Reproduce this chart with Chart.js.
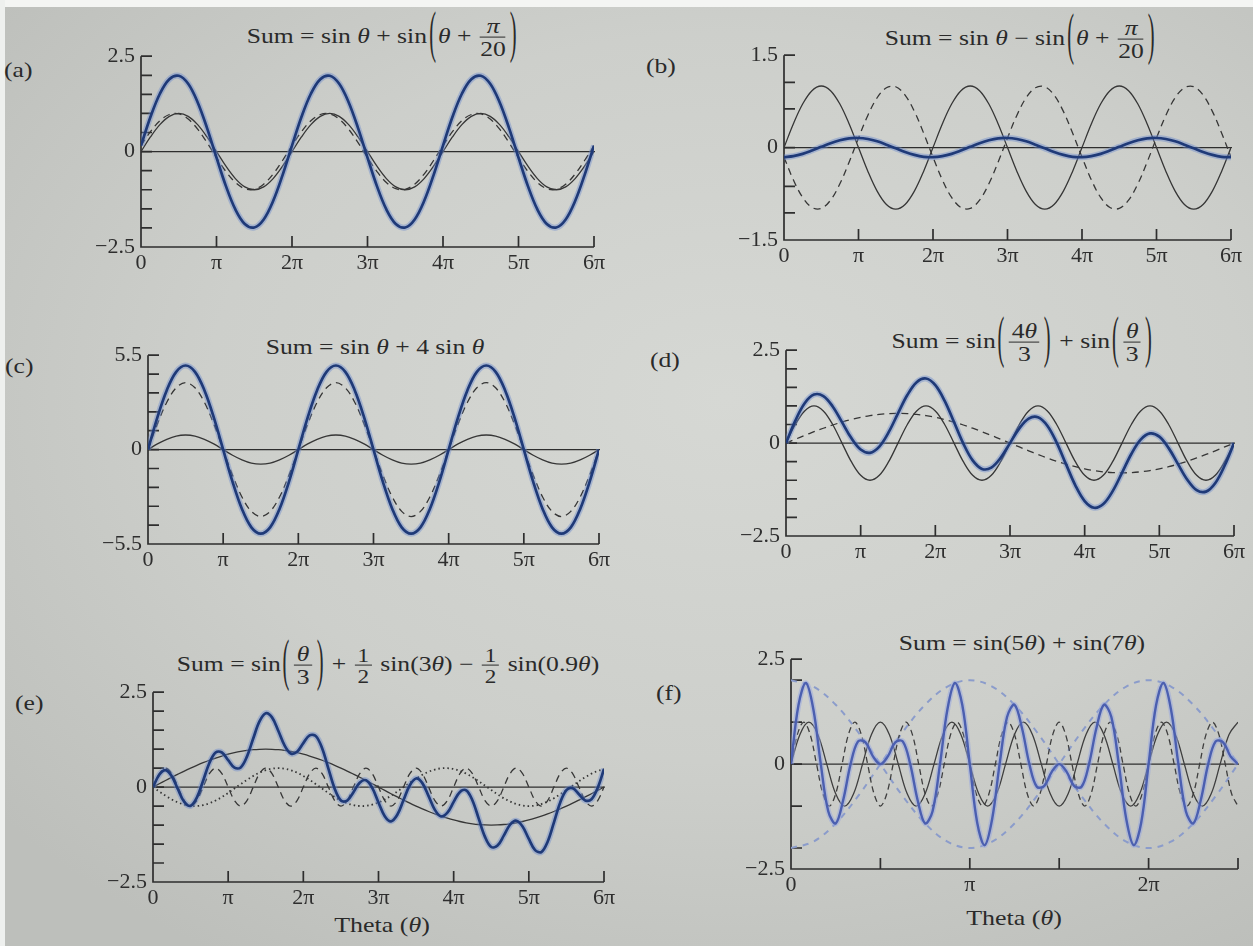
<!DOCTYPE html>
<html>
<head>
<meta charset="utf-8">
<script src="https://cdn.jsdelivr.net/npm/chart.js@4.4.1/dist/chart.umd.min.js"></script>
<style>
html,body{margin:0;padding:0;}
body{width:1253px;height:946px;position:relative;overflow:hidden;
  background:radial-gradient(ellipse 75% 70% at 58% 42%, #d6d8d4 0%, #cdcfcb 55%, #bdbfbb 100%);
  font-family:'Liberation Serif','DejaVu Serif',serif;color:#2a2a2a;}
.strip-top{position:absolute;left:0;top:0;width:1253px;height:7px;background:#f4f5f3;}
.strip-left{position:absolute;left:0;top:0;width:5px;height:946px;background:#eef0ee;}
canvas{position:absolute;}
.ttl{position:absolute;transform:translate(-50%,-50%) scaleX(1.22);white-space:nowrap;font-size:21px;}
.fr{display:inline-block;vertical-align:middle;text-align:center;font-size:21px;margin:0 2px;}
.fr .n{display:block;line-height:1.02;border-bottom:1.3px solid #2a2a2a;padding:0 2px;}
.fr .d{display:block;line-height:1.02;padding-top:1px;}
.fr.sm{font-size:19px;}
.bp{display:inline-block;vertical-align:middle;line-height:1;font-size:21px;transform:translateY(-5px) scale(0.8,2.75);margin:0 1px;}
.lab{position:absolute;font-size:21px;transform:translateY(-50%) scaleX(1.22);transform-origin:0 50%;white-space:nowrap;}
.axt{position:absolute;font-size:22px;transform:translate(-50%,-50%) scaleX(1.18);white-space:nowrap;}
</style>
</head>
<body>
<div class="strip-top"></div>
<div class="strip-left"></div>

<div class="lab" style="left:4px;top:70px;">(a)</div>
<div class="lab" style="left:646px;top:66px;">(b)</div>
<div class="lab" style="left:5px;top:366px;">(c)</div>
<div class="lab" style="left:650px;top:360px;">(d)</div>
<div class="lab" style="left:15px;top:703px;">(e)</div>
<div class="lab" style="left:656px;top:693px;">(f)</div>

<div class="ttl" style="left:383px;top:38px;">Sum = sin <i>θ</i> + sin<span class="bp">(</span><i>θ</i> + <span class="fr"><span class="n"><i>π</i></span><span class="d">20</span></span><span class="bp">)</span></div>
<div class="ttl" style="left:1021px;top:40px;">Sum = sin <i>θ</i> − sin<span class="bp">(</span><i>θ</i> + <span class="fr"><span class="n"><i>π</i></span><span class="d">20</span></span><span class="bp">)</span></div>
<div class="ttl" style="left:375px;top:347px;">Sum = sin <i>θ</i> + 4 sin <i>θ</i></div>
<div class="ttl" style="left:1023px;top:343px;">Sum = sin<span class="bp">(</span><span class="fr"><span class="n">4<i>θ</i></span><span class="d">3</span></span><span class="bp">)</span> + sin<span class="bp">(</span><span class="fr"><span class="n"><i>θ</i></span><span class="d">3</span></span><span class="bp">)</span></div>
<div class="ttl" style="left:388px;top:666px;">Sum = sin<span class="bp">(</span><span class="fr"><span class="n"><i>θ</i></span><span class="d">3</span></span><span class="bp">)</span> + <span class="fr sm"><span class="n">1</span><span class="d">2</span></span> sin(3<i>θ</i>) − <span class="fr sm"><span class="n">1</span><span class="d">2</span></span> sin(0.9<i>θ</i>)</div>
<div class="ttl" style="left:1022px;top:643px;">Sum = sin(5<i>θ</i>) + sin(7<i>θ</i>)</div>

<div class="axt" style="left:382px;top:925px;">Theta (<i>θ</i>)</div>
<div class="axt" style="left:1014px;top:918px;">Theta (<i>θ</i>)</div>

<script>
// ---------- sample positions (theta, in multiples of pi) ----------
const TH8 = [0,0.125,0.25,0.375,0.5,0.625,0.75,0.875,1,1.125,1.25,1.375,1.5,1.625,1.75,1.875,2,2.125,2.25,2.375,2.5,2.625,2.75,2.875,3,3.125,3.25,3.375,3.5,3.625,3.75,3.875,4,4.125,4.25,4.375,4.5,4.625,4.75,4.875,5,5.125,5.25,5.375,5.5,5.625,5.75,5.875,6];
const TH12 = [0,0.0833,0.1667,0.25,0.3333,0.4167,0.5,0.5833,0.6667,0.75,0.8333,0.9167,
  1,1.0833,1.1667,1.25,1.3333,1.4167,1.5,1.5833,1.6667,1.75,1.8333,1.9167,
  2,2.0833,2.1667,2.25,2.3333,2.4167,2.5,2.5833,2.6667,2.75,2.8333,2.9167,
  3,3.0833,3.1667,3.25,3.3333,3.4167,3.5,3.5833,3.6667,3.75,3.8333,3.9167,
  4,4.0833,4.1667,4.25,4.3333,4.4167,4.5,4.5833,4.6667,4.75,4.8333,4.9167,
  5,5.0833,5.1667,5.25,5.3333,5.4167,5.5,5.5833,5.6667,5.75,5.8333,5.9167,6];
const TH24F = [0,0.0417,0.0833,0.125,0.1667,0.2083,0.25,0.2917,0.3333,0.375,0.4167,0.4583,
  0.5,0.5417,0.5833,0.625,0.6667,0.7083,0.75,0.7917,0.8333,0.875,0.9167,0.9583,
  1,1.0417,1.0833,1.125,1.1667,1.2083,1.25,1.2917,1.3333,1.375,1.4167,1.4583,
  1.5,1.5417,1.5833,1.625,1.6667,1.7083,1.75,1.7917,1.8333,1.875,1.9167,1.9583,
  2,2.0417,2.0833,2.125,2.1667,2.2083,2.25,2.2917,2.3333,2.375,2.4167,2.4583,2.5];
const TH20F = [0,0.05,0.1,0.15,0.2,0.25,0.3,0.35,0.4,0.45,0.5,0.55,0.6,0.65,0.7,0.75,0.8,0.85,0.9,0.95,
  1,1.05,1.1,1.15,1.2,1.25,1.3,1.35,1.4,1.45,1.5,1.55,1.6,1.65,1.7,1.75,1.8,1.85,1.9,1.95,
  2,2.05,2.1,2.15,2.2,2.25,2.3,2.35,2.4,2.45,2.5];
const TH28F = [0,0.0357,0.0714,0.1071,0.1429,0.1786,0.2143,0.25,0.2857,0.3214,0.3571,0.3929,0.4286,0.4643,
  0.5,0.5357,0.5714,0.6071,0.6429,0.6786,0.7143,0.75,0.7857,0.8214,0.8571,0.8929,0.9286,0.9643,
  1,1.0357,1.0714,1.1071,1.1429,1.1786,1.2143,1.25,1.2857,1.3214,1.3571,1.3929,1.4286,1.4643,
  1.5,1.5357,1.5714,1.6071,1.6429,1.6786,1.7143,1.75,1.7857,1.8214,1.8571,1.8929,1.9286,1.9643,
  2,2.0357,2.0714,2.1071,2.1429,2.1786,2.2143,2.25,2.2857,2.3214,2.3571,2.3929,2.4286,2.4643,2.5];
const TH8F = [0,0.125,0.25,0.375,0.5,0.625,0.75,0.875,1,1.125,1.25,1.375,1.5,1.625,1.75,1.875,2,2.125,2.25,2.375,2.5];

// ---------- tick values and labels ----------
const X6_TICKS = [0,1,2,3,4,5,6];
const X6_LABELS = ['0','π','2π','3π','4π','5π','6π'];
const XF_TICKS = [0,0.5,1,1.5,2,2.5];
const XF_LABELS = ['0','','π','','2π',''];
const Y25_TICKS = [-2.5,-2,-1.5,-1,-0.5,0,0.5,1,1.5,2,2.5];
const Y25_LABELS = ['\u22122.5','','','','','0','','','','','2.5'];
const YB_TICKS = [-1.5,-1.06,-0.63,0,0.63,1.06,1.5];
const YB_LABELS = ['\u22121.5','','','0','','','1.5'];
const YC_TICKS = [-5.5,-4.4,-3.3,-2.2,-1.1,0,1.1,2.2,3.3,4.4,5.5];
const YC_LABELS = ['\u22125.5','','','','','0','','','','','5.5'];
const YF_TICKS = [-2.5,-2,-1,0,1,2,2.5];
const YF_LABELS = ['\u22122.5','','','0','','','2.5'];

// ---------- (a) ----------
const SIN_T = [0,.383,.707,.924,1,.924,.707,.383,0,-.383,-.707,-.924,-1,-.924,-.707,-.383,
  0,.383,.707,.924,1,.924,.707,.383,0,-.383,-.707,-.924,-1,-.924,-.707,-.383,
  0,.383,.707,.924,1,.924,.707,.383,0,-.383,-.707,-.924,-1,-.924,-.707,-.383,0];
const A_SHIFT = [.156,.522,.809,.972,.988,.853,.588,.233,-.156,-.522,-.809,-.972,-.988,-.853,-.588,-.233,
  .156,.522,.809,.972,.988,.853,.588,.233,-.156,-.522,-.809,-.972,-.988,-.853,-.588,-.233,
  .156,.522,.809,.972,.988,.853,.588,.233,-.156,-.522,-.809,-.972,-.988,-.853,-.588,-.233,.156];
const A_SUM = [.156,.905,1.516,1.896,1.988,1.777,1.295,.616,-.156,-.905,-1.516,-1.896,-1.988,-1.777,-1.295,-.616,
  .156,.905,1.516,1.896,1.988,1.777,1.295,.616,-.156,-.905,-1.516,-1.896,-1.988,-1.777,-1.295,-.616,
  .156,.905,1.516,1.896,1.988,1.777,1.295,.616,-.156,-.905,-1.516,-1.896,-1.988,-1.777,-1.295,-.616,.156];

// ---------- (b) ----------
const B_NEG = [-.156,-.522,-.809,-.972,-.988,-.853,-.588,-.233,.156,.522,.809,.972,.988,.853,.588,.233,
  -.156,-.522,-.809,-.972,-.988,-.853,-.588,-.233,.156,.522,.809,.972,.988,.853,.588,.233,
  -.156,-.522,-.809,-.972,-.988,-.853,-.588,-.233,.156,.522,.809,.972,.988,.853,.588,.233,-.156];
const B_SUM = [-.156,-.139,-.102,-.048,.012,.071,.119,.150,.156,.139,.102,.048,-.012,-.071,-.119,-.150,
  -.156,-.139,-.102,-.048,.012,.071,.119,.150,.156,.139,.102,.048,-.012,-.071,-.119,-.150,
  -.156,-.139,-.102,-.048,.012,.071,.119,.150,.156,.139,.102,.048,-.012,-.071,-.119,-.150,-.156];

// ---------- (c) ----------
const C_THIN = [0,.33,.6,.79,.85,.79,.6,.33,0,-.33,-.6,-.79,-.85,-.79,-.6,-.33,
  0,.33,.6,.79,.85,.79,.6,.33,0,-.33,-.6,-.79,-.85,-.79,-.6,-.33,
  0,.33,.6,.79,.85,.79,.6,.33,0,-.33,-.6,-.79,-.85,-.79,-.6,-.33,0];
const C_DASH = [0,1.49,2.76,3.6,3.9,3.6,2.76,1.49,0,-1.49,-2.76,-3.6,-3.9,-3.6,-2.76,-1.49,
  0,1.49,2.76,3.6,3.9,3.6,2.76,1.49,0,-1.49,-2.76,-3.6,-3.9,-3.6,-2.76,-1.49,
  0,1.49,2.76,3.6,3.9,3.6,2.76,1.49,0,-1.49,-2.76,-3.6,-3.9,-3.6,-2.76,-1.49,0];
const C_SUM = [0,1.88,3.46,4.53,4.9,4.53,3.46,1.88,0,-1.88,-3.46,-4.53,-4.9,-4.53,-3.46,-1.88,
  0,1.88,3.46,4.53,4.9,4.53,3.46,1.88,0,-1.88,-3.46,-4.53,-4.9,-4.53,-3.46,-1.88,
  0,1.88,3.46,4.53,4.9,4.53,3.46,1.88,0,-1.88,-3.46,-4.53,-4.9,-4.53,-3.46,-1.88,0];

// ---------- (d) ----------
const D_THIN = [0,.5,.866,1,.866,.5,0,-.5,-.866,-1,-.866,-.5,
  0,.5,.866,1,.866,.5,0,-.5,-.866,-1,-.866,-.5,
  0,.5,.866,1,.866,.5,0,-.5,-.866,-1,-.866,-.5,
  0,.5,.866,1,.866,.5,0,-.5,-.866,-1,-.866,-.5,0];
const D_DASH = [0,.104,.207,.306,.4,.487,.566,.635,.693,.739,.773,.793,.8,.793,.773,.739,.693,.635,.566,.487,.4,.306,.207,.104,
  0,-.104,-.207,-.306,-.4,-.487,-.566,-.635,-.693,-.739,-.773,-.793,-.8,-.793,-.773,-.739,-.693,-.635,-.566,-.487,-.4,-.306,-.207,-.104,0];
const D_SUM = [0,.604,1.073,1.306,1.266,.987,.566,.135,-.173,-.261,-.093,.293,.8,1.293,1.639,1.739,1.559,1.135,.566,-.013,-.466,-.694,-.659,-.396,
  0,.396,.659,.694,.466,.013,-.566,-1.135,-1.559,-1.739,-1.639,-1.293,-.8,-.293,.093,.261,.173,-.135,-.566,-.987,-1.266,-1.306,-1.073,-.604,0];

// ---------- (e) ----------
const E_SLOW = [0,.087,.174,.259,.342,.423,.5,.574,.643,.707,.766,.819,.866,.906,.94,.966,.985,.996,1,.996,.985,.966,.94,.906,.866,.819,.766,.707,.643,.574,.5,.423,.342,.259,.174,.087,
  0,-.087,-.174,-.259,-.342,-.423,-.5,-.574,-.643,-.707,-.766,-.819,-.866,-.906,-.94,-.966,-.985,-.996,-1,-.996,-.985,-.966,-.94,-.906,-.866,-.819,-.766,-.707,-.643,-.574,-.5,-.423,-.342,-.259,-.174,-.087,0];
const E_FAST = [0,.354,.5,.354,0,-.354,-.5,-.354, 0,.354,.5,.354,0,-.354,-.5,-.354, 0,.354,.5,.354,0,-.354,-.5,-.354,
  0,.354,.5,.354,0,-.354,-.5,-.354, 0,.354,.5,.354,0,-.354,-.5,-.354, 0,.354,.5,.354,0,-.354,-.5,-.354,
  0,.354,.5,.354,0,-.354,-.5,-.354, 0,.354,.5,.354,0,-.354,-.5,-.354, 0,.354,.5,.354,0,-.354,-.5,-.354, 0];
const E_DOT = [0,-.117,-.227,-.325,-.405,-.462,-.494,-.498,-.476,-.426,-.354,-.261,-.155,-.039,
  .078,.191,.294,.38,.446,.486,.5,.486,.446,.38,.294,.191,.078,
  -.039,-.155,-.261,-.354,-.426,-.476,-.498,-.494,-.462,-.405,-.325,-.227,-.117,0,
  .117,.227,.325,.405,.462,.494,.498,.476,.426,.354,.261,.155,.039,
  -.078,-.191,-.294,-.38,-.446,-.486,-.5,-.486,-.446,-.38,-.294,-.191,-.078,
  .039,.155,.261,.354,.426,.476];
const E_SUM = [0,.324,.447,.288,-.063,-.393,-.494,-.278,.167,.635,
  .912,.912,.711,.513,.518,.803,1.279,1.73,1.946,1.836,
  1.485,1.098,.886,.932,1.16,1.364,1.344,1.022,.488,-.041,
  -.354,-.357,-.134,.115,.18,-.021,-.405,-.766,-.901,-.73,
  -.342,.048,.227,.105,-.238,-.599,-.772,-.675,-.39,-.126,
  -.086,-.351,-.83,-1.311,-1.578,-1.541,-1.279,-.992,-.886,-1.038,
  -1.366,-1.659,-1.712,-1.441,-.937,-.411,-.078,-.03,-.187,-.352,
  -.32,-.015,.476];

// ---------- (f) ----------
const F_SUM = [0,1.402,1.932,1.307,0,-1.122,-1.414,-.861,
  0,.541,.518,.185,0,.185,.518,.541,
  0,-.861,-1.414,-1.122,0,1.307,1.932,1.402,
  0,-1.402,-1.932,-1.307,0,1.122,1.414,.861,
  0,-.541,-.518,-.185,0,-.185,-.518,-.541,
  0,.861,1.414,1.122,0,-1.307,-1.932,-1.402,
  0,1.402,1.932,1.307,0,-1.122,-1.414,-.861,
  0,.541,.518,.185,0];
const F_SIN5 = [0,.707,1,.707,0,-.707,-1,-.707, 0,.707,1,.707,0,-.707,-1,-.707, 0,.707,1,.707,0,-.707,-1,-.707,
  0,.707,1,.707,0,-.707,-1,-.707, 0,.707,1,.707,0,-.707,-1,-.707, 0,.707,1,.707,0,-.707,-1,-.707, 0,.707,1];
const F_SIN7 = [0,.707,1,.707,0,-.707,-1,-.707, 0,.707,1,.707,0,-.707,-1,-.707, 0,.707,1,.707,0,-.707,-1,-.707,
  0,.707,1,.707,0,-.707,-1,-.707, 0,.707,1,.707,0,-.707,-1,-.707, 0,.707,1,.707,0,-.707,-1,-.707,
  0,.707,1,.707,0,-.707,-1,-.707, 0,.707,1,.707,0,-.707,-1,-.707, 0,.707,1,.707,0,-.707,-1];
const F_ENV_UP = [2,1.848,1.414,.765,0,-.765,-1.414,-1.848,-2,-1.848,-1.414,-.765,0,.765,1.414,1.848,2,1.848,1.414,.765,0];
const F_ENV_DN = [-2,-1.848,-1.414,-.765,0,.765,1.414,1.848,2,1.848,1.414,.765,0,-.765,-1.414,-1.848,-2,-1.848,-1.414,-.765,0];

// ---------- styles ----------
const STYLE = {
  core: {borderColor:'#1f3a78', borderWidth:2.7},
  halo: {borderColor:'rgba(105,135,205,0.42)', borderWidth:6},
  thin: {borderColor:'#363636', borderWidth:1.3},
  dash: {borderColor:'#363636', borderWidth:1.3, borderDash:[7,5]},
  dot:  {borderColor:'#363636', borderWidth:1.8, borderDash:[1.5,3]},
  fcore:{borderColor:'#4b5fb0', borderWidth:2.4},
  fhalo:{borderColor:'rgba(150,165,225,0.5)', borderWidth:5.5},
  fthin:{borderColor:'#3e3e3e', borderWidth:1.3},
  fdash:{borderColor:'#3e3e3e', borderWidth:1.3, borderDash:[6,4]},
  env:  {borderColor:'#8b9ccb', borderWidth:2, borderDash:[6,6]}
};

const PANELS = [
  {box:[141,53,594,247], xmax:6, xt:X6_TICKS, xl:X6_LABELS, ymin:-2.5, ymax:2.5, yt:Y25_TICKS, yl:Y25_LABELS,
   ds:[['core',TH8,A_SUM],['halo',TH8,A_SUM],['thin',TH8,SIN_T],['dash',TH8,A_SHIFT]]},
  {box:[784,52,1231,240], xmax:6, xt:X6_TICKS, xl:X6_LABELS, ymin:-1.5, ymax:1.5, yt:YB_TICKS, yl:YB_LABELS,
   ds:[['core',TH8,B_SUM],['halo',TH8,B_SUM],['thin',TH8,SIN_T],['dash',TH8,B_NEG]]},
  {box:[148,352,599,544], xmax:6, xt:X6_TICKS, xl:X6_LABELS, ymin:-5.5, ymax:5.5, yt:YC_TICKS, yl:YC_LABELS,
   ds:[['core',TH8,C_SUM],['halo',TH8,C_SUM],['thin',TH8,C_THIN],['dash',TH8,C_DASH]]},
  {box:[786,347,1234,536], xmax:6, xt:X6_TICKS, xl:X6_LABELS, ymin:-2.5, ymax:2.5, yt:Y25_TICKS, yl:Y25_LABELS,
   ds:[['core',TH8,D_SUM],['halo',TH8,D_SUM],['thin',TH8,D_THIN],['dash',TH8,D_DASH]]},
  {box:[153,689,604,882], xmax:6, xt:X6_TICKS, xl:X6_LABELS, ymin:-2.5, ymax:2.5, yt:Y25_TICKS, yl:Y25_LABELS,
   ds:[['core',TH12,E_SUM],['halo',TH12,E_SUM],['thin',TH12,E_SLOW],['dash',TH12,E_FAST],['dot',TH12,E_DOT]]},
  {box:[791,656,1238,869], xmax:2.5, xt:XF_TICKS, xl:XF_LABELS, ymin:-2.5, ymax:2.5, yt:YF_TICKS, yl:YF_LABELS,
   ds:[['fcore',TH24F,F_SUM],['fhalo',TH24F,F_SUM],['fthin',TH20F,F_SIN5],['fdash',TH28F,F_SIN7],['env',TH8F,F_ENV_UP],['env',TH8F,F_ENV_DN]]}
];

const YW = 72, XH = 36, PT = 16, PR = 28, TL = 11;

const axisPlugin = {
  id: 'axisPlugin',
  beforeDatasetsDraw(chart) {
    const ctx = chart.ctx, x = chart.scales.x, y = chart.scales.y;
    const L = x.getPixelForValue(x.min), R = x.getPixelForValue(x.max);
    const T = y.getPixelForValue(y.max), B = y.getPixelForValue(y.min);
    const Z = y.getPixelForValue(0);
    ctx.save();
    ctx.strokeStyle = '#2e2e2e';
    ctx.lineWidth = 1.3;
    ctx.beginPath();
    ctx.moveTo(L, Z); ctx.lineTo(R + 1, Z);
    ctx.stroke();
    ctx.lineWidth = 1.7;
    ctx.beginPath();
    ctx.moveTo(L, T); ctx.lineTo(L, B); ctx.lineTo(R, B);
    y.ticks.forEach(t => {
      const py = y.getPixelForValue(t.value);
      ctx.moveTo(L, py); ctx.lineTo(L + TL, py);
    });
    x.ticks.forEach(t => {
      if (t.value === x.min) return;
      const px = x.getPixelForValue(t.value);
      ctx.moveTo(px, B); ctx.lineTo(px, B - TL);
    });
    ctx.stroke();
    ctx.restore();
  }
};

const FONT = {family:"'Liberation Serif', 'DejaVu Serif', serif", size:22};

PANELS.forEach(p => {
  const [L, T, R, B] = p.box;
  const cv = document.createElement('canvas');
  const w = YW + (R - L) + PR, h = PT + (B - T) + XH;
  cv.width = w; cv.height = h;
  cv.style.left = (L - YW) + 'px'; cv.style.top = (T - PT) + 'px';
  cv.style.width = w + 'px'; cv.style.height = h + 'px';
  document.body.appendChild(cv);
  const datasets = p.ds.map(([st, xs, ys]) => Object.assign({
    data: xs.map((xv, i) => ({x: xv, y: ys[i]})),
    pointRadius: 0, fill: false, tension: 0.36,
    borderCapStyle: 'butt', borderJoinStyle: 'round'
  }, STYLE[st]));
  new Chart(cv, {
    type: 'line',
    data: {datasets},
    plugins: [axisPlugin],
    options: {
      responsive: false, animation: false, events: [],
      layout: {padding: {left: 0, top: PT, right: PR, bottom: 0}},
      plugins: {legend: {display: false}, tooltip: {enabled: false}},
      scales: {
        x: {
          type: 'linear', min: 0, max: p.xmax,
          grid: {display: false, drawTicks: false}, border: {display: false},
          afterBuildTicks: s => { s.ticks = p.xt.map(v => ({value: v})); },
          afterFit: s => { s.height = XH; },
          ticks: {autoSkip: false, maxRotation: 0, padding: 3, color: '#2e2e2e', font: FONT,
                  callback: (v, i) => p.xl[i]}
        },
        y: {
          type: 'linear', min: p.ymin, max: p.ymax,
          grid: {display: false, drawTicks: false}, border: {display: false},
          afterBuildTicks: s => { s.ticks = p.yt.map(v => ({value: v})); },
          afterFit: s => { s.width = YW; },
          ticks: {autoSkip: false, padding: 6, color: '#2e2e2e', font: FONT,
                  callback: (v, i) => p.yl[i]}
        }
      }
    }
  });
});
</script>
</body>
</html>
